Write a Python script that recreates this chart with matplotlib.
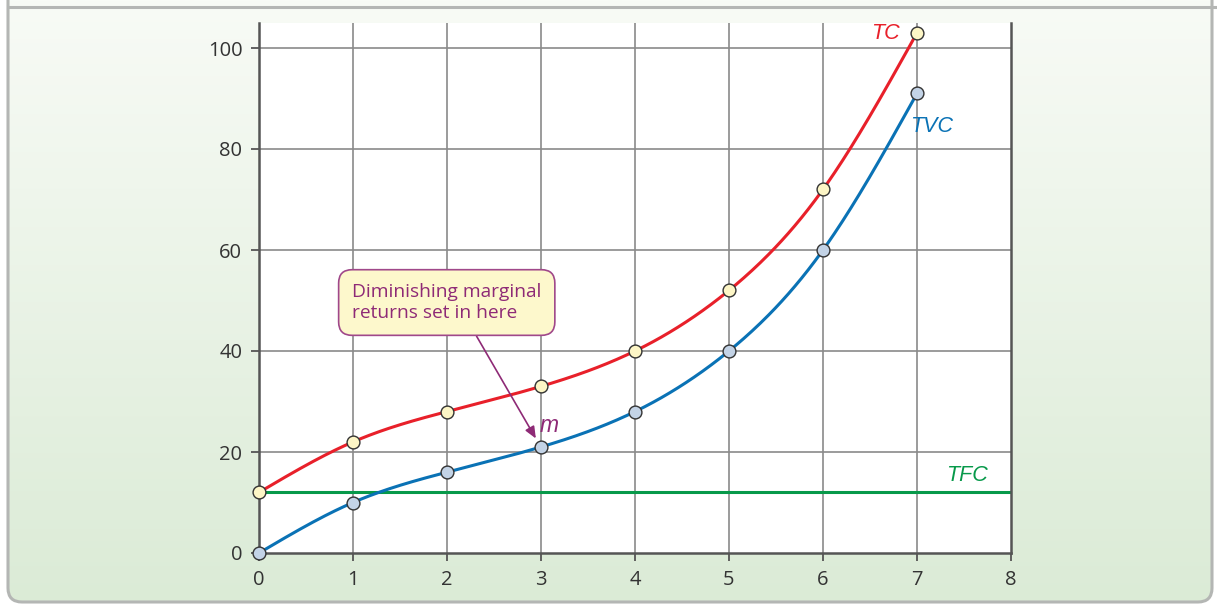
import numpy as np
import matplotlib
matplotlib.use("Agg")
import matplotlib.pyplot as plt
from matplotlib.patches import FancyBboxPatch
from matplotlib.colors import LinearSegmentedColormap

# ── data ──────────────────────────────────────────────────────────────────────
output = [0, 1, 2, 3, 4, 5, 6, 7]
tfc    = 12
tvc    = [0, 10, 16, 21, 28, 40, 60, 91]
tc     = [12, 22, 28, 33, 40, 52, 72, 103]

x_ticks = [0, 1, 2, 3, 4, 5, 6, 7, 8]
y_ticks = [0, 20, 40, 60, 80, 100]

RED    = "#e8202a"
BLUE   = "#0a72b5"
GREEN  = "#07994a"
PURPLE = "#8e2a76"
FONT   = "Open Sans"
IFONT  = "Liberation Sans"


def natural_spline(xs, ys, n=400):
    """smooth curve through the points (natural cubic spline)"""
    xs = np.asarray(xs, float)
    ys = np.asarray(ys, float)
    k = len(xs)
    h = np.diff(xs)
    A = np.zeros((k, k))
    b = np.zeros(k)
    A[0, 0] = A[-1, -1] = 1
    for i in range(1, k - 1):
        A[i, i - 1] = h[i - 1]
        A[i, i] = 2 * (h[i - 1] + h[i])
        A[i, i + 1] = h[i]
        b[i] = 6 * ((ys[i + 1] - ys[i]) / h[i] - (ys[i] - ys[i - 1]) / h[i - 1])
    M = np.linalg.solve(A, b)
    xx = np.linspace(xs[0], xs[-1], n)
    idx = np.clip(np.searchsorted(xs, xx) - 1, 0, k - 2)
    x0, x1 = xs[idx], xs[idx + 1]
    hh = x1 - x0
    t0, t1 = x1 - xx, xx - x0
    yy = (M[idx] * t0**3 + M[idx + 1] * t1**3) / (6 * hh) \
        + (ys[idx] / hh - M[idx] * hh / 6) * t0 \
        + (ys[idx + 1] / hh - M[idx + 1] * hh / 6) * t1
    return xx, yy


W, H = 1217, 605
fig = plt.figure(figsize=(W / 100, H / 100), dpi=100)

# ── background panel (gradient in rounded frame) ─────────────────────────────
bg = fig.add_axes([0, 0, 1, 1])
bg.set_xlim(0, W)
bg.set_ylim(H, 0)
bg.axis("off")
frame = FancyBboxPatch((8, -30), 1204, 632, boxstyle="round,pad=0,rounding_size=14",
                       facecolor="none", edgecolor="#b4b6b4", linewidth=2.2,
                       transform=bg.transData)
bg.add_patch(frame)
grad_cmap = LinearSegmentedColormap.from_list("bg", ["#f8fbf6", "#dbebd6"])
grad = np.linspace(0, 1, 256).reshape(-1, 1)
im = bg.imshow(grad, cmap=grad_cmap, extent=[0, W, H, 0], aspect="auto")
im.set_clip_path(frame)
bg.plot([8, W], [6.5, 6.5], color="#b4b6b4", lw=2.2)

# ── main axes ────────────────────────────────────────────────────────────────
ax = fig.add_axes([259 / W, 1 - 553 / H, (1011 - 259) / W, (553 - 23) / H])
ax.set_facecolor("white")
ax.set_xlim(0, 8)
ax.set_ylim(0, (553 - 23) / 5.05)

for xv in x_ticks[1:-1]:
    ax.axvline(xv, color="#8a8a8a", lw=1.2, zorder=1)
for yv in y_ticks[1:]:
    ax.axhline(yv, color="#8a8a8a", lw=1.2, zorder=1)

ax.axhline(tfc, color=GREEN, lw=2.2, zorder=2)

xx, yy = natural_spline(output, tvc)
ax.plot(xx, yy, color=BLUE, lw=2.2, zorder=3)
xx, yy = natural_spline(output, tc)
ax.plot(xx, yy, color=RED, lw=2.2, zorder=3)

ax.scatter(output, tvc, s=85, facecolor="#c3d3e6", edgecolor="#333333",
           linewidth=1.0, zorder=5, clip_on=False)
ax.scatter(output, tc, s=85, facecolor="#fdf6c6", edgecolor="#333333",
           linewidth=1.0, zorder=5, clip_on=False)

# curve labels
ax.text(6.66, 102.8, "TC", color=RED, fontsize=15.5, style="italic",
        family=IFONT, ha="center", va="center")
ax.text(7.16, 84.5, "TVC", color=BLUE, fontsize=15.5, style="italic",
        family=IFONT, ha="center", va="center")
ax.text(7.53, 15.4, "TFC", color=GREEN, fontsize=15.5, style="italic",
        family=IFONT, ha="center", va="center")
ax.text(3.09, 25.2, "m", color=PURPLE, fontsize=16.5, style="italic",
        family=IFONT, ha="center", va="center")

# annotation
ax.annotate("", xy=(2.96, 22.2), xytext=(2.30, 43.4),
            arrowprops=dict(arrowstyle="-|>,head_length=0.7,head_width=0.3",
                            color=PURPLE, lw=1.2), zorder=6)
ax.text(0.99, 49.6, "Diminishing marginal\nreturns set in here", color=PURPLE,
        fontsize=13.8, family=FONT, ha="left", va="center", linespacing=1.2,
        zorder=7,
        bbox=dict(boxstyle="round,pad=0.7,rounding_size=0.7", facecolor="#fdf8cc",
                  edgecolor="#a0488a", linewidth=1.2))

# axes styling
for side in ["left", "bottom", "right"]:
    ax.spines[side].set_color("#555555")
    ax.spines[side].set_linewidth(1.8)
ax.spines["top"].set_visible(False)
ax.set_xticks(x_ticks)
ax.set_yticks(y_ticks)
ax.tick_params(direction="out", length=6, width=1.3, color="#555555",
               labelsize=14.5, labelcolor="#333333", pad=6)
for lab in ax.get_xticklabels() + ax.get_yticklabels():
    lab.set_family(FONT)

fig.savefig("out.png", dpi=100)
